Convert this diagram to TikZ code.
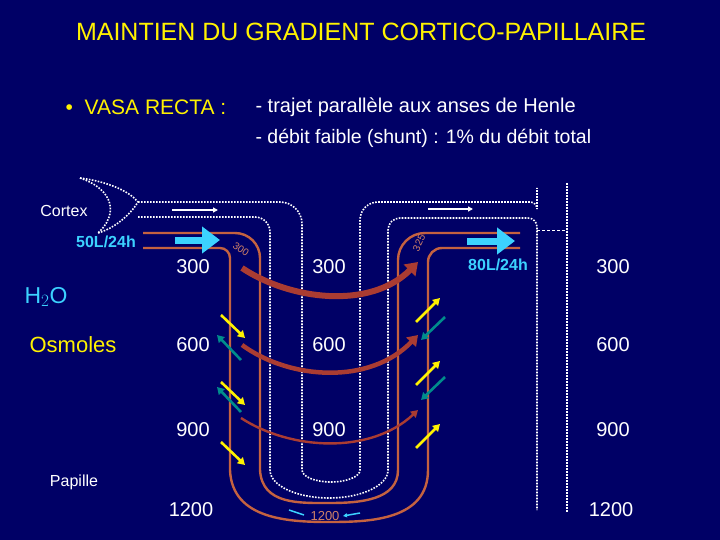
\documentclass[tikz,border=0pt]{standalone}
\usepackage{fontspec}
\setmainfont{Liberation Sans}
\usetikzlibrary{arrows.meta}
\definecolor{navy}{RGB}{0,0,102}
\definecolor{tube}{RGB}{196,98,64}
\definecolor{flux}{RGB}{170,60,50}
\definecolor{teal2}{RGB}{0,140,140}
\definecolor{cyan2}{RGB}{60,210,255}
\tikzset{
  txt/.style={text=white,font=\fontsize{20}{24}\selectfont},
  dots/.style={white,line width=1.6pt,dash pattern=on 1.6pt off 1.4pt},
  wall/.style={tube,line width=2.4pt},
  osm/.style={yellow,line width=2.6pt,-{Triangle[length=7pt,width=8pt]}},
  eau/.style={teal2,line width=2.6pt,-{Triangle[length=7pt,width=8pt]}}
}
\begin{document}
\begin{tikzpicture}[x=1pt,y=-1pt]
\fill[navy] (0,0) rectangle (720,540);
\useasboundingbox (0,0) rectangle (720,540);
% titre
\node[text=yellow,font=\fontsize{25}{30}\selectfont] (titre) at (361,32) {MAINTIEN DU GRADIENT CORTICO-PAPILLAIRE};
\node[text=yellow,font=\fontsize{21}{25}\selectfont] (vasa) at (146,107) {•\ \ VASA RECTA :};
\node[text=white,font=\fontsize{20}{24}\selectfont,anchor=west] (trajet) at (252,107) {- trajet parallèle aux anses de Henle};
\node[text=white,font=\fontsize{19.5}{24}\selectfont,anchor=west] (debit) at (252,138) {- débit faible (shunt) : 1\% du débit total};

% anse de Henle (pointilles)
\draw[dots] (80,178) .. controls (110,182) and (130,192) .. (138,202) .. controls (130,215) and (115,228) .. (98,233);
\draw[dots] (80,178) .. controls (115,190) and (118,215) .. (98,233);
\draw[dots] (138,202) -- (280,202) arc (-90:0:22) -- (302,470) arc (180:0:29 and 12) -- (360,220) arc (180:270:18) -- (530,202) arc (-90:0:7) -- (537,188);
\draw[dots] (138,217) -- (255,217) arc (-90:0:15) -- (270,470) arc (180:0:59 and 28) -- (388,230) arc (180:270:12) -- (528,218) arc (-90:0:9) -- (537,510);
\draw[dots] (567,183) -- (567,512);
\draw[white,densely dashed,thin] (537,230) -- (567,230);
\draw[white,line width=1.6pt,-{Triangle[length=5pt,width=5pt]}] (172,210) -- (218,210);
\draw[white,line width=1.6pt,-{Triangle[length=5pt,width=5pt]}] (428,209) -- (473,209);

% vasa recta
\draw[wall] (143,233) -- (235,233) arc (-90:0:25) -- (260,470) .. controls (262,505) and (300,503) .. (330,503) .. controls (360,503) and (398,500) .. (398,470) -- (398,260) arc (180:270:27) -- (520,233);
\draw[wall] (143,248) -- (220,248) arc (-90:0:10) -- (230,470) .. controls (232,520) and (290,522) .. (330,522) .. controls (370,522) and (428,520) .. (428,470) -- (428,262) arc (180:270:14) -- (520,248);
\draw[cyan2,line width=7pt,-{Triangle[length=18pt,width=26pt]}] (175,240) -- (220,240);
\draw[cyan2,line width=7pt,-{Triangle[length=18pt,width=26pt]}] (467,241) -- (515,241);
\node[text=tube!80!white,rotate=-35,font=\fontsize{10}{12}\selectfont] (c300) at (241,249) {300};
\node[text=tube!80!white,rotate=65,font=\fontsize{10}{12}\selectfont] (c325) at (419,243) {325};

% flux transversaux
\draw[flux,line width=6pt,-{Triangle[length=12pt,width=16pt]}] (242,268) .. controls (290,300) and (370,310) .. (418,262);
\draw[flux,line width=4.5pt,-{Triangle[length=10pt,width=13pt]}] (242,345) .. controls (290,380) and (370,385) .. (418,335);
\draw[flux,line width=2.4pt,-{Triangle[length=7pt,width=8pt]}] (241,418) .. controls (290,450) and (370,455) .. (418,410);

\foreach \y in {315,382,442}
  \draw[osm] (221,\y) -- (245,\y+23);
\foreach \y in {322,385,448}
  \draw[osm] (416,\y) -- (440,\y-24);
\foreach \y in {360,412}
  \draw[eau] (241,\y) -- (217,\y-25);
\foreach \y in {317,377}
  \draw[eau] (445,\y) -- (421,\y+23);
\draw[cyan2,line width=1.5pt] (289,510) -- (304,515);
\draw[cyan2,line width=1.5pt,-{Triangle[length=4pt,width=4pt]}] (360,513) -- (343,516);
\node[text=tube!80!white,font=\fontsize{13}{15}\selectfont] (fond) at (325,516) {1200};

% valeurs
\foreach \x/\n in {193/g,329/m,613/d}{
  \node[txt] (t300\n) at (\x,267) {300};
  \node[txt] (t600\n) at (\x,345) {600};
  \node[txt] (t900\n) at (\x,430) {900};
}
\node[txt] (t1200g) at (191,510) {1200};
\node[txt] (t1200d) at (611,510) {1200};

% legendes
\node[text=white,font=\fontsize{16}{19}\selectfont] (cortex) at (64,211) {Cortex};
\node[text=cyan2,font=\bfseries\fontsize{16}{19}\selectfont] (d50) at (106,242) {50L/24h};
\node[text=cyan2,font=\bfseries\fontsize{16}{19}\selectfont] (d80) at (498,265) {80L/24h};
\node[text=cyan2,font=\fontsize{23}{27}\selectfont] (eau) at (46,297) {H$_2$O};
\node[text=yellow,font=\fontsize{22}{26}\selectfont] (osmoles) at (73,345) {Osmoles};
\node[text=white,font=\fontsize{16}{19}\selectfont] (papille) at (74,482) {Papille};
\end{tikzpicture}
\end{document}
